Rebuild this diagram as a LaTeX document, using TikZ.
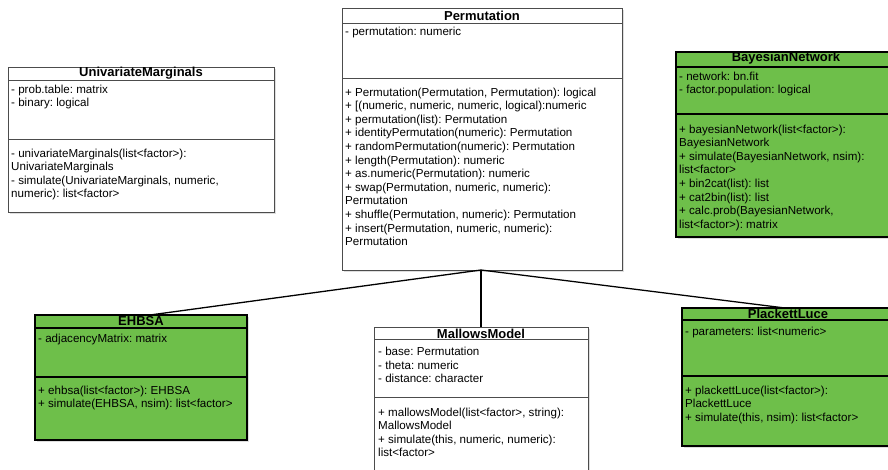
\documentclass[tikz,border=0pt]{standalone}
\usepackage{fontspec}
\setmainfont{Liberation Sans}
\frenchspacing
\usetikzlibrary{shadows,calc}
\definecolor{umlgreen}{RGB}{110,191,74}
\begin{document}
\begin{tikzpicture}[x=1pt,y=-1pt,
  boxbase/.style={rectangle,anchor=north west,inner sep=0pt,outer sep=0pt},
  wbox/.style={boxbase,draw=black!70,line width=0.8pt,fill=white,
    drop shadow={shadow xshift=2pt,shadow yshift=-2pt,opacity=0.18,fill=black!70}},
  gbox/.style={boxbase,draw=black,line width=1.4pt,fill=umlgreen,
    drop shadow={shadow xshift=2pt,shadow yshift=-2pt,opacity=0.18,fill=black!70}},
  wsep/.style={draw=black!70,line width=0.8pt},
  gsep/.style={draw=black,line width=1.3pt},
  ttl/.style={inner sep=0pt,font=\fontsize{13}{15}\selectfont\bfseries},
  txt/.style={anchor=north west,inner sep=0pt,align=left,font=\fontsize{11.6}{13.6}\selectfont},
  conn/.style={draw=black,line width=1.3pt}
]
\clip (0,0) rectangle (888,470);
\fill[white] (0,0) rectangle (888,470);

% UnivariateMarginals
\node[wbox,minimum width=266pt,minimum height=145pt] (um) at (8,67) {};
\draw[wsep] ($(um.north west)+(0,13)$) -- ($(um.north east)+(0,13)$);
\draw[wsep] ($(um.north west)+(0,72)$) -- ($(um.north east)+(0,72)$);
\node[ttl] (umt) at (141,73.5) {UnivariateMarginals};
\node[txt] (uma) at (11,84.5) {- prob.table: matrix\\- binary: logical};
\node[txt] (umm) at (11,148.5) {- univariateMarginals(list<factor>):\\UnivariateMarginals\\- simulate(UnivariateMarginals, numeric,\\numeric): list<factor>};

% Permutation
\node[wbox,minimum width=280pt,minimum height=262pt] (perm) at (342,8) {};
\draw[wsep] ($(perm.north west)+(0,15)$) -- ($(perm.north east)+(0,15)$);
\draw[wsep] ($(perm.north west)+(0,70)$) -- ($(perm.north east)+(0,70)$);
\node[ttl] (permt) at (482,15.5) {Permutation};
\node[txt] (perma) at (345,27) {- permutation: numeric};
\node[txt] (permm) at (345,87.5) {+ Permutation(Permutation, Permutation): logical\\+ [(numeric, numeric, numeric, logical):numeric\\+ permutation(list): Permutation\\+ identityPermutation(numeric): Permutation\\+ randomPermutation(numeric): Permutation\\+ length(Permutation): numeric\\+ as.numeric(Permutation): numeric\\+ swap(Permutation, numeric, numeric):\\Permutation\\+ shuffle(Permutation, numeric): Permutation\\+ insert(Permutation, numeric, numeric):\\Permutation};

% BayesianNetwork
\node[gbox,minimum width=220pt,minimum height=185pt] (bn) at (676,52) {};
\draw[gsep] ($(bn.north west)+(0,15)$) -- ($(bn.north east)+(0,15)$);
\draw[gsep] ($(bn.north west)+(0,62)$) -- ($(bn.north east)+(0,62)$);
\node[ttl] (bnt) at (786,58.5) {BayesianNetwork};
\node[txt] (bna) at (679,71.5) {- network: bn.fit\\- factor.population: logical};
\node[txt] (bnm) at (679,124.5) {+ bayesianNetwork(list<factor>):\\BayesianNetwork\\+ simulate(BayesianNetwork, nsim):\\list<factor>\\+ bin2cat(list): list\\+ cat2bin(list): list\\+ calc.prob(BayesianNetwork,\\list<factor>): matrix};

% EHBSA
\node[gbox,minimum width=212pt,minimum height=125pt] (eh) at (35,315) {};
\draw[gsep] ($(eh.north west)+(0,13)$) -- ($(eh.north east)+(0,13)$);
\draw[gsep] ($(eh.north west)+(0,62)$) -- ($(eh.north east)+(0,62)$);
\node[ttl] (eht) at (141,321.5) {EHBSA};
\node[txt] (eha) at (38,333.5) {- adjacencyMatrix: matrix};
\node[txt] (ehm) at (38,385.5) {+ ehbsa(list<factor>): EHBSA\\+ simulate(EHBSA, nsim): list<factor>};

% MallowsModel
\node[wbox,minimum width=214pt,minimum height=160pt] (mm) at (374,327) {};
\draw[wsep] ($(mm.north west)+(0,12)$) -- ($(mm.north east)+(0,12)$);
\draw[wsep] ($(mm.north west)+(0,70)$) -- ($(mm.north east)+(0,70)$);
\node[ttl] (mmt) at (481,333.5) {MallowsModel};
\node[txt] (mma) at (378,347) {- base: Permutation\\- theta: numeric\\- distance: character};
\node[txt] (mmm) at (378,407.5) {+ mallowsModel(list<factor>, string):\\MallowsModel\\+ simulate(this, numeric, numeric):\\list<factor>};

% PlackettLuce
\node[gbox,minimum width=212pt,minimum height=138pt] (pl) at (682,308) {};
\draw[gsep] ($(pl.north west)+(0,12)$) -- ($(pl.north east)+(0,12)$);
\draw[gsep] ($(pl.north west)+(0,68)$) -- ($(pl.north east)+(0,68)$);
\node[ttl] (plt) at (788,314) {PlackettLuce};
\node[txt] (pla) at (685,327) {- parameters: list<numeric>};
\node[txt] (plm) at (685,385.5) {+ plackettLuce(list<factor>):\\PlackettLuce\\+ simulate(this, nsim): list<factor>};

% connectors
\draw[conn] ([xshift=-1pt]perm.south) -- ([xshift=9pt]eh.north);
\draw[conn] ([xshift=-1pt]perm.south) -- (mm.north);
\draw[conn] ([xshift=-1pt]perm.south) -- ([xshift=-3pt]pl.north);
\end{tikzpicture}
\end{document}
